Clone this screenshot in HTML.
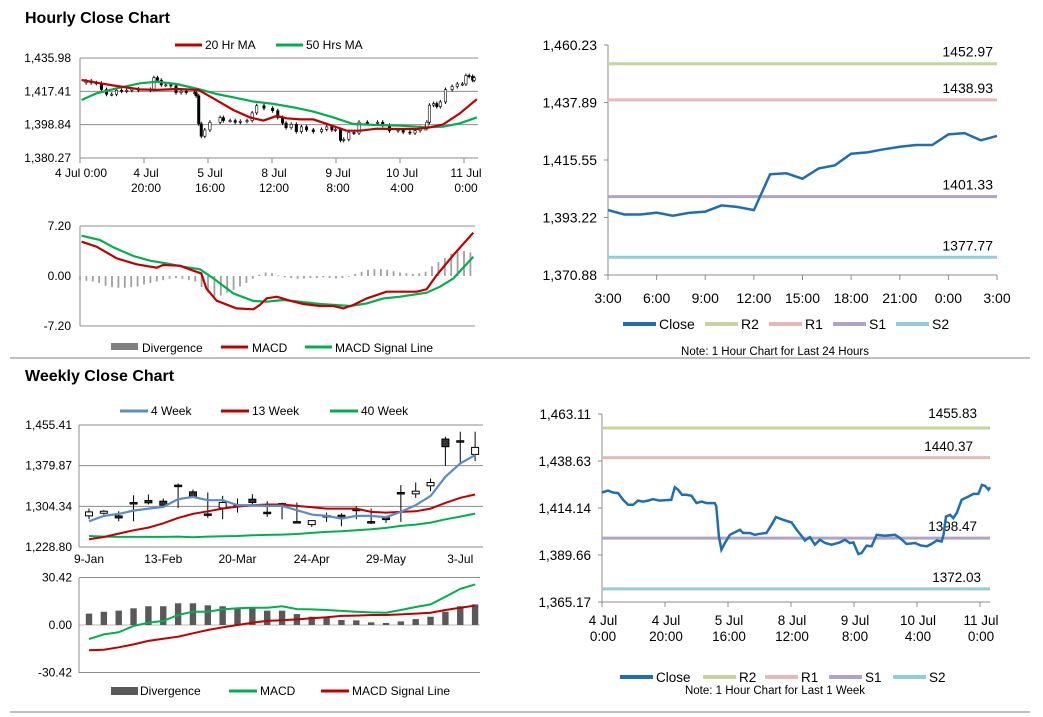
<!DOCTYPE html>
<html><head><meta charset="utf-8"><style>
html,body{margin:0;padding:0;background:#fff;}
svg{display:block;font-family:"Liberation Sans",Arial,sans-serif;}
</style></head><body>
<svg id="root" width="1043" height="717" viewBox="0 0 1043 717" xmlns="http://www.w3.org/2000/svg">
<rect x="0" y="0" width="1043" height="717" fill="#fff"/>
<text x="25" y="23" font-size="16" font-weight="bold" fill="#000">Hourly Close Chart</text>
<text x="25" y="381" font-size="16" font-weight="bold" fill="#000">Weekly Close Chart</text>
<line x1="10" y1="358" x2="1030" y2="358" stroke="#808080" stroke-width="1"/>
<line x1="10" y1="712" x2="1030" y2="712" stroke="#808080" stroke-width="1"/>
</svg>
<script>
// ---------- DATA ----------
// 1-week hourly closes (hour index from 4 Jul 0:00, 20 steps per tick)
const weekHours = [0,1.9,3.5,5.1,6.7,8.3,9.9,11.4,13.0,14.6,16.2,18.3,22.0,23.1,24.2,25.4,26.8,28.4,30.0,31.6,33.2,35.8,36.3,37.1,37.9,39.0,40.6,43.8,44.8,46.9,48.5,50.1,52.2,53.8,55.2,57.5,60.2,61.8,63.3,64.4,66.0,67.6,69.2,70.8,72.9,75.5,77.1,78.7,79.8,81.4,82.4,84.0,85.6,87.2,89.8,93.0,94.6,96.7,99.4,101.0,103.1,104.7,106.3,107.8,108.4,109.2,110.5,111.5,112.6,114.2,116.3,117.9,119.5,120.6,121.6,122.7,123.2];
const weekClose = [1422.2,1423.2,1422.2,1421.9,1418.4,1415.8,1415.8,1418.0,1417.5,1418.0,1418.7,1418.0,1418.4,1425.0,1423.6,1421.0,1421.0,1420.5,1416.7,1417.5,1416.7,1416.7,1414.9,1399.3,1392.4,1395.9,1400.2,1402.8,1401.1,1401.1,1400.2,1400.7,1401.1,1405.4,1409.4,1408.0,1406.6,1402.8,1399.7,1397.2,1399.0,1395.0,1397.6,1395.9,1395.0,1396.2,1397.6,1395.9,1396.2,1390.1,1390.7,1394.5,1394.2,1400.2,1399.7,1400.2,1398.5,1395.4,1395.9,1394.7,1394.2,1395.5,1397.2,1396.7,1400.2,1409.7,1410.6,1408.9,1411.5,1418.4,1420.1,1421.5,1421.5,1426.2,1425.7,1423.6,1425.0];
const ma20Hours = [0.5,6.25,11.5,18.75,24,30.2,37,41.7,47.9,53.1,57.3,61.5,64.6,68.75,72.9,78.1,83.3,87.5,92.7,97.9,105.2,109.4,113.5,118.75,124];
const ma20 = [1423.7,1421.9,1420.4,1418.5,1418.2,1418.7,1418.2,1413.5,1407.0,1402.9,1401.1,1403.7,1402.4,1401.8,1401.8,1398.7,1395.5,1395.5,1396.6,1396.4,1396.4,1397.4,1399.0,1405.2,1413.0];
const ma50Hours = [0.5,5.2,11.5,18.75,24,30.2,37.5,42.7,47.9,54.2,60.4,66.7,72.9,79.2,85.4,91.7,100,108.3,113.5,118.75,124];
const ma50 = [1412.6,1416.3,1419.1,1421.9,1422.8,1421.5,1418.5,1415.9,1414.1,1411.7,1410.4,1408.5,1406.1,1402.9,1399.2,1398.7,1398.3,1397.4,1397.7,1399.6,1402.9];
const hourTicks = ["4 Jul|0:00","4 Jul|20:00","5 Jul|16:00","8 Jul|12:00","9 Jul|8:00","10 Jul|4:00","11 Jul|0:00"];
const priceTicksA = [1435.98,1417.41,1398.84,1380.27];
// hourly MACD
const macdHours = [0.5,5.2,11.5,17.7,24,26,31.2,35.4,37.9,39.5,42.7,48.9,54.2,56.2,58.3,61.5,65.6,69.8,75,79.2,82.3,85.4,89.6,95.8,105.2,108.3,111.5,116.7,122.9];
const macdVals = [4.94,4.22,2.54,1.68,1.2,1.58,1.49,0.77,0.38,-1.78,-3.55,-4.66,-4.8,-4.18,-3.22,-2.98,-3.55,-4.03,-4.32,-4.32,-4.66,-4.18,-3.22,-2.26,-2.26,-1.92,0.14,3.02,6.24];
const sigHours = [0.5,6.25,10.4,16.7,21.9,27.1,32.3,37.5,41.7,47.9,54.2,58.3,63.5,68.75,75,84.4,89.6,94.8,100,108.3,112.5,116.7,122.9];
const sigVals = [5.81,5.18,4.13,2.88,2.21,1.82,1.34,0.96,-0.34,-2.5,-3.6,-3.7,-3.46,-3.7,-4.03,-4.32,-3.94,-3.22,-2.98,-2.4,-1.54,-0.34,2.78];
const divVals = [-0.6,-0.7,-0.8,-1.0,-1.4,-1.6,-1.7,-1.7,-1.6,-1.5,-1.2,-1.0,-0.8,-0.6,-0.4,-0.3,-0.4,-0.6,-0.8,-1.6,-2.4,-2.9,-2.8,-2.4,-2.0,-1.5,-1.0,-0.4,0.2,0.5,0.4,0.1,-0.2,-0.3,-0.4,-0.4,-0.3,-0.3,-0.2,-0.3,-0.4,-0.3,-0.1,0.3,0.6,0.9,1.0,1.0,0.9,0.7,0.5,0.4,0.3,0.4,0.6,1.4,2.0,2.6,3.2,3.5,3.6,3.4];
const macdTicksB = [7.20,0.00,-7.20];
// 24h chart
const dayTicks = ["3:00","6:00","9:00","12:00","15:00","18:00","21:00","0:00","3:00"];
const dayClose = [1396.1,1394.4,1394.4,1395.1,1393.9,1395.0,1395.5,1397.9,1397.3,1396.1,1410.0,1410.4,1408.3,1412.3,1413.5,1418.0,1418.5,1419.7,1420.7,1421.4,1421.4,1425.5,1426.0,1423.2,1424.9];
const dayLevels = [1452.97,1438.93,1401.33,1377.77];
const dayPriceTicks = [1460.23,1437.89,1415.55,1393.22,1370.88];
// week chart levels
const weekLevels = [1455.83,1440.37,1398.47,1372.03];
const weekPriceTicks = [1463.11,1438.63,1414.14,1389.66,1365.17];
// weekly candles
const wkLabels = ["9-Jan","13-Feb","20-Mar","24-Apr","29-May","3-Jul"];
const wkOpen = [1286.6,1291.5,1286.6,1311.4,1315.1,1313.9,1343.7,1331.2,1290.3,1301.4,1307.0,1317.6,1293.4,1306.4,1276.0,1270.4,1287.2,1287.8,1299.0,1276.0,1282.8,1330.0,1327.5,1342.4,1429.3,1426.2,1400.8];
const wkClose = [1294.0,1295.2,1282.8,1309.5,1310.8,1306.4,1342.4,1321.9,1287.8,1311.4,1305.8,1311.4,1292.1,1309.5,1274.7,1277.8,1285.9,1282.8,1297.7,1274.7,1279.7,1328.8,1332.5,1348.6,1415.1,1425.0,1413.8];
const wkHigh = [1300.2,1297.7,1295.2,1325.0,1326.3,1318.8,1346.8,1335.6,1330.0,1323.8,1318.8,1326.9,1313.9,1311.4,1311.4,1277.8,1292.7,1291.5,1304.6,1300.2,1286.6,1343.7,1348.6,1356.1,1433.7,1443.0,1443.0];
const wkLow = [1280.3,1289.0,1276.6,1276.6,1307.7,1302.7,1301.4,1321.3,1282.8,1280.3,1292.7,1307.7,1284.7,1280.3,1273.5,1266.1,1275.4,1267.3,1280.3,1271.7,1273.5,1275.4,1320.1,1332.5,1379.7,1385.9,1388.4];
const ma4w = [1276.6,1286.6,1290.3,1296.5,1300.2,1303.3,1317.6,1321.9,1315.7,1315.7,1306.4,1306.4,1305.2,1305.2,1297.1,1289.0,1286.6,1281.6,1286.6,1286.6,1284.1,1294.0,1306.4,1323.8,1359.2,1384.0,1399.5];
const ma13w = [1243.1,1247.4,1253.6,1259.9,1264.8,1272.9,1282.8,1290.3,1295.2,1300.2,1303.9,1306.4,1307.7,1307.7,1305.2,1302.7,1300.2,1300.2,1300.2,1294.0,1292.7,1294.0,1295.2,1300.2,1310.8,1320.1,1326.3];
const ma40w = [1249.3,1248.1,1247.5,1247.5,1247.5,1247.5,1248.1,1246.8,1248.1,1248.7,1249.3,1250.5,1251.2,1251.8,1253.0,1254.9,1256.8,1258.0,1259.9,1261.7,1264.2,1267.9,1270.4,1274.1,1280.3,1285.3,1290.8];
const wkPriceTicks = [1455.41,1379.87,1304.34,1228.80];
const wkDiv = [7.3,8.5,9.2,10.7,12.0,12.0,13.9,13.9,12.6,12.0,11.1,11.1,9.2,9.2,7.0,5.3,4.7,3.2,3.0,1.7,1.3,2.3,3.8,5.3,8.5,12.0,13.2];
const wkMacd = [-9.0,-6.0,-4.7,-0.6,1.5,2.6,6.4,8.5,8.5,10.0,10.7,11.1,11.1,12.0,10.2,10.0,9.6,9.0,8.5,8.1,7.9,9.6,11.5,13.2,18.1,23.1,26.0];
const wkSig = [-16.2,-15.8,-14.3,-12.4,-10.2,-8.8,-7.5,-5.3,-3.2,-1.5,0,1.5,2.6,3.0,3.6,4.3,4.9,5.8,6.0,6.4,6.4,6.8,7.3,7.9,9.6,11.1,12.4];
const wkMacdTicks = [30.42,0.00,-30.42];

// ---------- AXES ----------
const xA = i => 80 + i * 3.2;
const yA = v => 58 + (1435.98 - v) / 55.71 * 100;
const yB = v => 276 - v / 7.2 * 50;
const xC = i => 608 + i * (389 / 24);
const yC = v => 45 + (1460.23 - v) / 89.35 * 230;
const xD = i => 602 + i * 3.15;
const yD = v => 414 + (1463.11 - v) / 97.94 * 188;
const xE = i => 89 + i * 14.85;
const yE = v => 425 + (1455.41 - v) / 226.61 * 122;
const yF = v => 625 - v / 30.42 * 47.5;

const NS = "http://www.w3.org/2000/svg";
const svg = document.getElementById('root');
function mk(tag, a) {
  const e = document.createElementNS(NS, tag);
  for (const k in a) e.setAttribute(k, a[k]);
  svg.appendChild(e);
  return e;
}
function txt(x, y, s, size, anchor) {
  const e = mk('text', {x: x, y: y, 'font-size': size, 'text-anchor': anchor || 'start', fill: '#000'});
  e.textContent = s;
  return e;
}
function pts(xs, ys, fx, fy) { return xs.map((h, k) => fx(h).toFixed(1) + ',' + fy(ys[k]).toFixed(1)).join(' '); }
const fmt = v => v.toLocaleString('en-US', {minimumFractionDigits: 2, maximumFractionDigits: 2});
let e;

// ===== Chart A: hourly candles =====
priceTicksA.forEach(v => {
  e = mk('line', {x1: 80, y1: yA(v), x2: 478, y2: yA(v), stroke: '#8c8c8c', 'stroke-width': 1});
  
  
  e = txt(71, yA(v) + 4, fmt(v), 12, 'end');
  
  
});
e = mk('line', {x1: 80, y1: 58, x2: 80, y2: 158, stroke: '#8c8c8c'});


hourTicks.forEach((s, k) => {
  const x = xA(k * 20);
  e = mk('line', {x1: x, y1: 158, x2: x, y2: 163, stroke: '#8c8c8c'});
  
  
  const p = s.split('|');
  if (k === 0) {
    e = txt(x + 1, 177, p[0] + ' ' + p[1], 12, 'middle');
    
    
  } else {
    e = txt(x + 2, 177, p[0], 12, 'middle');
    
    
    e = txt(x + 2, 192, p[1], 12, 'middle');
    
    
  }
});
for (let k = 1; k < weekClose.length; k++) {
  const o = weekClose[k - 1], c = weekClose[k], x = xA(weekHours[k]);
  const top = yA(Math.max(o, c)), bot = yA(Math.min(o, c));
  e = mk('line', {x1: x, y1: top - 2, x2: x, y2: bot + 2, stroke: '#000', 'stroke-width': 1});
  
  
  e = mk('rect', {x: x - 1.2, y: top, width: 2.4, height: Math.max(bot - top, 1), fill: c >= o ? '#fff' : '#000', stroke: '#000', 'stroke-width': 0.6});
  
  
}
e = mk('polyline', {points: pts(ma50Hours, ma50, xA, yA), fill: 'none', stroke: '#00b050', 'stroke-width': 2.2});


e = mk('polyline', {points: pts(ma20Hours, ma20, xA, yA), fill: 'none', stroke: '#c00000', 'stroke-width': 2.2});


e = mk('line', {x1: 175, y1: 45, x2: 202, y2: 45, stroke: '#c00000', 'stroke-width': 3});


e = txt(205, 49, '20 Hr MA', 12);


e = mk('line', {x1: 276, y1: 45, x2: 303, y2: 45, stroke: '#00b050', 'stroke-width': 3});


e = txt(306, 49, '50 Hrs MA', 12);



// ===== Chart B: hourly MACD =====
[7.2, -7.2].forEach(v => {
  e = mk('line', {x1: 80, y1: yB(v), x2: 475, y2: yB(v), stroke: '#8c8c8c'});
  
  
});
macdTicksB.forEach(v => {
  e = txt(71, yB(v) + 4, v.toFixed(2), 12, 'end');
  
  
});
e = mk('line', {x1: 80, y1: 226, x2: 80, y2: 326, stroke: '#8c8c8c'});


divVals.forEach((v, k) => {
  const x = xA(k * 2);
  e = mk('rect', {x: x - 0.9, y: Math.min(yB(v), yB(0)), width: 1.8, height: Math.abs(yB(v) - yB(0)), fill: '#a0a0a0'});
  
  
});
e = mk('polyline', {points: pts(sigHours, sigVals, xA, yB), fill: 'none', stroke: '#00b050', 'stroke-width': 2.2});


e = mk('polyline', {points: pts(macdHours, macdVals, xA, yB), fill: 'none', stroke: '#c00000', 'stroke-width': 2.2});


e = mk('rect', {x: 111, y: 343, width: 27, height: 7, fill: '#808080'});


e = txt(142, 352, 'Divergence', 12);


e = mk('line', {x1: 221, y1: 347, x2: 248, y2: 347, stroke: '#c00000', 'stroke-width': 3});


e = txt(252, 352, 'MACD', 12);


e = mk('line', {x1: 305, y1: 347, x2: 332, y2: 347, stroke: '#00b050', 'stroke-width': 3});


e = txt(335, 352, 'MACD Signal Line', 12);



// ===== Pivot charts (C: 24h, D: 1 week) =====
const lvlColors = ['#c3d69b', '#e6b9b8', '#b3a2c7', '#93cddd'];
const lvlNames = ['R2', 'R1', 'S1', 'S2'];
function pivotAxes(x0, x1, y0, y1, ticks, fy, lblX, fs) {
  e = mk('line', {x1: x0, y1: y0, x2: x0, y2: y1, stroke: '#8c8c8c'});
  
  
  e = mk('line', {x1: x0, y1: y1, x2: x1, y2: y1, stroke: '#8c8c8c'});
  
  
  ticks.forEach(v => {
    e = mk('line', {x1: x0 - 4, y1: fy(v), x2: x0, y2: fy(v), stroke: '#8c8c8c'});
    
    
    e = txt(lblX, fy(v) + 5, fmt(v), fs, 'end');
    
    
  });
}
pivotAxes(608, 997, 45, 275, dayPriceTicks, yC, 597, 14);
dayLevels.forEach((v, k) => {
  e = mk('line', {x1: 608, y1: yC(v), x2: 997, y2: yC(v), stroke: lvlColors[k], 'stroke-width': 3});
  
  
  e = txt(993, yC(v) - 7, v.toFixed(2), 14, 'end');
  
  
});
dayTicks.forEach((s, k) => {
  const x = xC(k * 3);
  e = mk('line', {x1: x, y1: 275, x2: x, y2: 280, stroke: '#8c8c8c'});
  
  
  e = txt(x, 303, s, 14, 'middle');
  
  
});
e = mk('polyline', {points: pts(dayClose.map((v, k) => k), dayClose, xC, yC), fill: 'none', stroke: '#1f6eb5', 'stroke-width': 2.5});



pivotAxes(602, 990, 414, 602, weekPriceTicks, yD, 591, 13.5);
weekLevels.forEach((v, k) => {
  e = mk('line', {x1: 602, y1: yD(v), x2: 990, y2: yD(v), stroke: lvlColors[k], 'stroke-width': 3});
  
  
});
const wkLblY = [418, 451, 531, 582], wkLblX = [977, 973, 977, 981];
weekLevels.forEach((v, k) => {
  e = txt(wkLblX[k], wkLblY[k], v.toFixed(2), 13.5, 'end');
  
  
});
hourTicks.forEach((s, k) => {
  const x = xD(k * 20);
  e = mk('line', {x1: x, y1: 602, x2: x, y2: 607, stroke: '#8c8c8c'});
  
  
  const p = s.split('|');
  e = txt(x + 1, 625, p[0], 13.5, 'middle');
  
  
  e = txt(x + 1, 641, p[1], 13.5, 'middle');
  
  
});
e = mk('polyline', {points: pts(weekHours, weekClose, xD, yD), fill: 'none', stroke: '#1f6eb5', 'stroke-width': 2.5});



function pivotLegend(y, xs, noteY, note, fs) {
  const cols = ['#1f6eb5'].concat(lvlColors), names = ['Close'].concat(lvlNames);
  names.forEach((n, k) => {
    e = mk('line', {x1: xs[k], y1: y, x2: xs[k] + 33, y2: y, stroke: cols[k], 'stroke-width': 4});
    
    
    e = txt(xs[k] + 36, y + 5, n, fs);
    
    
  });
  e = txt(775, noteY, note, 11.5, 'middle');
  
  
}
pivotLegend(324, [623, 705, 769, 833, 896], 355, 'Note: 1 Hour Chart for Last 24 Hours', 14);
pivotLegend(677, [620, 703, 765, 829, 893], 694, 'Note: 1 Hour Chart for Last 1 Week', 13.5);

// ===== Chart E: weekly candles =====
wkPriceTicks.forEach(v => {
  e = mk('line', {x1: 79, y1: yE(v), x2: 483, y2: yE(v), stroke: '#8c8c8c'});
  
  
  e = txt(72, yE(v) + 4, fmt(v), 12, 'end');
  
  
});
e = mk('line', {x1: 79, y1: 425, x2: 79, y2: 547, stroke: '#8c8c8c'});


wkLabels.forEach((s, k) => {
  e = txt(xE(k * 5), 563, s, 12, 'middle');
  
  
});
wkOpen.forEach((o, k) => {
  const c = wkClose[k], x = xE(k);
  e = mk('line', {x1: x, y1: yE(wkHigh[k]), x2: x, y2: yE(wkLow[k]), stroke: '#000', 'stroke-width': 1});
  
  
  const top = yE(Math.max(o, c)), bot = yE(Math.min(o, c));
  e = mk('rect', {x: x - 3.5, y: top, width: 7, height: Math.max(bot - top, 1.5), fill: c >= o ? '#fff' : '#333', stroke: '#000', 'stroke-width': 1});
  
  
});
const wkIdx = ma4w.map((v, k) => k);
e = mk('polyline', {points: pts(wkIdx, ma40w, xE, yE), fill: 'none', stroke: '#00b050', 'stroke-width': 2});


e = mk('polyline', {points: pts(wkIdx, ma13w, xE, yE), fill: 'none', stroke: '#c00000', 'stroke-width': 2});


e = mk('polyline', {points: pts(wkIdx, ma4w, xE, yE), fill: 'none', stroke: '#5b8cc8', 'stroke-width': 2.2});


[[120, '#5b8cc8', '4 Week'], [221, '#c00000', '13 Week'], [330, '#00b050', '40 Week']].forEach(d => {
  e = mk('line', {x1: d[0], y1: 411, x2: d[0] + 28, y2: 411, stroke: d[1], 'stroke-width': 3});
  
  
  e = txt(d[0] + 31, 415, d[2], 12);
  
  
});

// ===== Chart F: weekly MACD =====
[30.42, -30.42].forEach(v => {
  e = mk('line', {x1: 79, y1: yF(v), x2: 480, y2: yF(v), stroke: '#8c8c8c'});
  
  
});
e = mk('line', {x1: 79, y1: yF(0), x2: 480, y2: yF(0), stroke: '#bbb'});


e = mk('line', {x1: 79, y1: 578, x2: 79, y2: 673, stroke: '#8c8c8c'});


wkMacdTicks.forEach(v => {
  e = txt(72, yF(v) + 4, v.toFixed(2), 12, 'end');
  
  
});
wkDiv.forEach((v, k) => {
  e = mk('rect', {x: xE(k) - 3.2, y: Math.min(yF(v), yF(0)), width: 6.4, height: Math.abs(yF(v) - yF(0)), fill: '#595959'});
  
  
});
e = mk('polyline', {points: pts(wkIdx, wkMacd, xE, yF), fill: 'none', stroke: '#00b050', 'stroke-width': 2});


e = mk('polyline', {points: pts(wkIdx, wkSig, xE, yF), fill: 'none', stroke: '#c00000', 'stroke-width': 2});


e = mk('rect', {x: 111, y: 687, width: 27, height: 8, fill: '#595959'});


e = txt(140, 695, 'Divergence', 12);


e = mk('line', {x1: 229, y1: 691, x2: 257, y2: 691, stroke: '#00b050', 'stroke-width': 3});


e = txt(260, 695, 'MACD', 12);


e = mk('line', {x1: 321, y1: 691, x2: 349, y2: 691, stroke: '#c00000', 'stroke-width': 3});


e = txt(352, 695, 'MACD Signal Line', 12);


</script>
</body></html>
